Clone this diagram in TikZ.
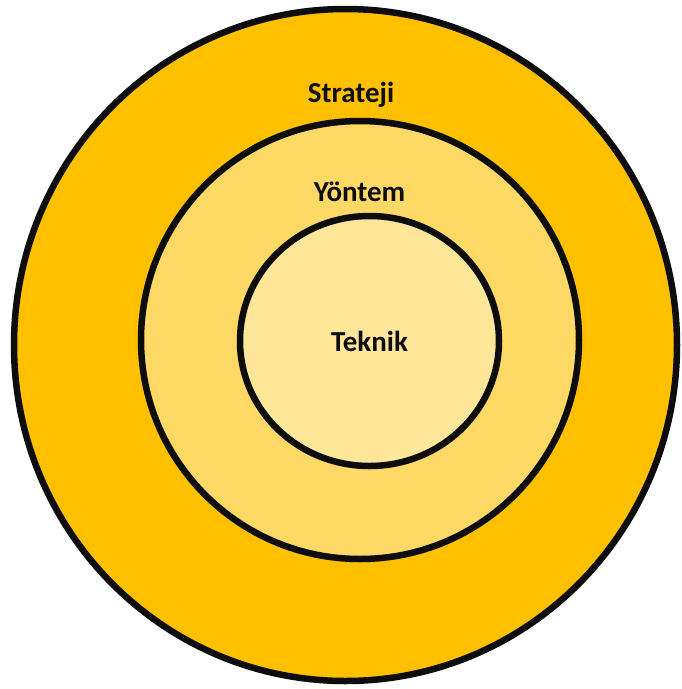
\documentclass[tikz,border=0pt]{standalone}
\usepackage{fontspec}
\setmainfont{Carlito}
\usetikzlibrary{shapes.geometric}
\definecolor{Amber}{HTML}{FFC000}
\definecolor{AmberLight}{HTML}{FFD966}
\definecolor{AmberPale}{HTML}{FFE699}
\definecolor{Ink}{HTML}{0D0D0D}

\begin{document}
\begin{tikzpicture}[
    x=1pt, y=-1pt,
    ring/.style={ellipse, draw=Ink, line width=6.5pt, inner sep=0pt},
    label/.style={font=\fontsize{29}{35}\selectfont\bfseries, text=Ink, inner sep=0pt}
]
\useasboundingbox (0,0) rectangle (681,689);
\node[ring, fill=Amber, minimum width=663pt, minimum height=672pt] (strateji) at (345.5,345) {};
\node[ring, fill=AmberLight, minimum width=438pt, minimum height=438pt] (yontem) at (360,340) {};
\node[ring, fill=AmberPale, minimum width=259pt, minimum height=250pt] (teknik) at (369.5,341) {};

\node[label] (stratejiL) at (351,95) {Strateji};
\node[label] (yontemL) at (359.5,192) {Yöntem};
\node[label] (teknikL) at (teknik.center) {Teknik};
\end{tikzpicture}
\end{document}
